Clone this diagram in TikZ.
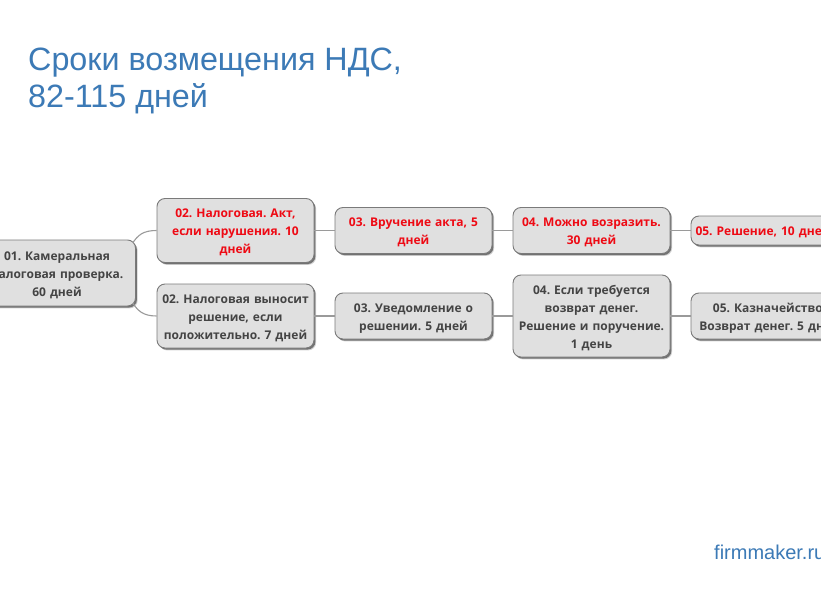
\documentclass[tikz,border=0pt]{standalone}
\usepackage{fontspec}
\setmainfont{Open Sans}
\newfontfamily\titlefont{Liberation Sans}
\usetikzlibrary{shadows}
\frenchspacing
\definecolor{titleblue}{HTML}{3C7AB6}
\definecolor{boxtext}{HTML}{444444}
\definecolor{boxred}{HTML}{EE0A14}
\definecolor{boxfill}{HTML}{E0E0E0}
\definecolor{boxline}{HTML}{7A7A7A}
\definecolor{linkgray}{HTML}{9A9A9A}
\tikzset{
  x=1pt,y=-1pt,
  mapbox/.style={draw=boxline,line width=.9pt,fill=boxfill,rounded corners=8pt,
    minimum width=157pt,text width=157pt,align=center,inner sep=0pt,
    font=\fontsize{12}{18}\selectfont\bfseries,text=boxtext,
    execute at begin node={\leavevmode\rule{0pt}{13pt}},
    general shadow={shadow xshift=2.2pt,shadow yshift=-2.4pt,fill=black,opacity=.18},
    general shadow={shadow xshift=1.4pt,shadow yshift=-1.6pt,fill=black,opacity=.45}},
  redbox/.style={mapbox,text=boxred},
  link/.style={draw=linkgray,line width=1.1pt},
  heading/.style={anchor=base west,inner sep=0pt,text=titleblue,font=\titlefont\fontsize{32.3}{37}\selectfont},
  credit/.style={anchor=base west,inner sep=0pt,text=titleblue,font=\titlefont\fontsize{20}{24}\selectfont}
}
\begin{document}
\begin{tikzpicture}
\useasboundingbox (0,0) rectangle (821,596);
\clip (0,0) rectangle (821,596);
\fill[white] (0,0) rectangle (821,596);
\node[heading] (t1) at (28,71) {Сроки возмещения НДС,};
\node[heading] (t2) at (28,108) {82-115 дней};
\node[credit] (cr) at (714,559) {firmmaker.ru};

\node[mapbox,minimum height=66pt] (a1) at (57,273) {01. Камеральная\\налоговая проверка.\\60 дней};
\node[redbox,minimum height=64pt] (a2) at (235.5,230.5) {02. Налоговая. Акт,\\если нарушения. 10\\дней};
\node[redbox,minimum height=46pt] (a3) at (413.5,230.5) {03. Вручение акта, 5\\дней};
\node[redbox,minimum height=46pt] (a4) at (591.5,230.5) {04. Можно возразить.\\30 дней};
\node[redbox,minimum height=29pt,minimum width=144pt,text width=144pt] (a5) at (763,230.5) {05. Решение, 10 дней};
\node[mapbox,minimum height=64pt] (b2) at (235.5,316) {02. Налоговая выносит\\решение, если\\положительно. 7 дней};
\node[mapbox,minimum height=46pt] (b3) at (413.5,316) {03. Уведомление о\\решении. 5 дней};
\node[mapbox,minimum height=82pt] (b4) at (591.5,316) {04. Если требуется\\возврат денег.\\Решение и поручение.\\1 день};
\node[mapbox,minimum height=46pt] (b5) at (769.5,316) {05. Казначейство.\\Возврат денег. 5 дней};

\draw[link] (a2.west) .. controls ++(-14,0) and ++(5,-7) .. ([shift={(-3,3)}]a1.north east);
\draw[link] (b2.west) .. controls ++(-14,0) and ++(5,7) .. ([shift={(-3,-3)}]a1.south east);
\draw[link] (a2) -- (a3);
\draw[link] (a3) -- (a4);
\draw[link] (a4) -- (a5);
\draw[link] (b2) -- (b3);
\draw[link] (b3) -- (b4);
\draw[link] (b4) -- (b5);
\end{tikzpicture}
\end{document}
